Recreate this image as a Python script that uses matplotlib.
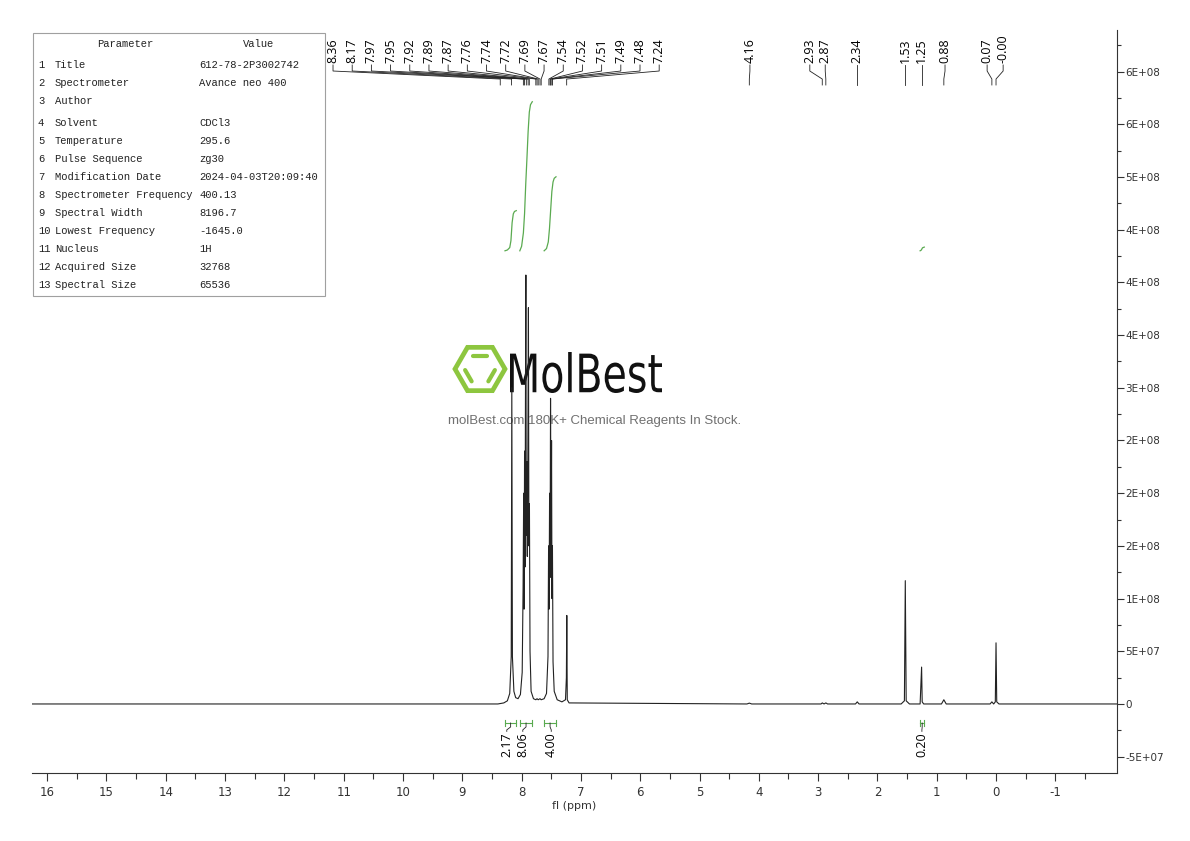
import numpy as np
import matplotlib.pyplot as plt
from matplotlib.ticker import FixedLocator, FuncFormatter
from matplotlib.patches import Rectangle, RegularPolygon, PathPatch
from matplotlib.textpath import TextPath
from matplotlib.font_manager import FontProperties
from matplotlib.transforms import Affine2D

plt.rcParams['axes.unicode_minus'] = False

# 1H NMR trace: shift (ppm) and intensity (x 1e8)
SCALE = 1e8
trace_ppm = [16.26, 8.40, 8.30, 8.24, 8.20, 8.175, 8.165, 8.155, 8.13, 8.10,
             8.06, 8.02, 7.99, 7.975, 7.965, 7.958, 7.950, 7.942, 7.935, 7.928,
             7.921, 7.912, 7.904, 7.896, 7.885, 7.877, 7.868, 7.858, 7.84, 7.80,
             7.76, 7.74, 7.72, 7.69, 7.67, 7.62, 7.58, 7.555, 7.545, 7.537,
             7.528, 7.520, 7.512, 7.503, 7.495, 7.488, 7.480, 7.47, 7.45, 7.40,
             7.32, 7.26, 7.245, 7.238, 7.230, 7.20, 4.20, 4.16, 4.12, 2.95,
             2.93, 2.90, 2.87, 2.84, 2.37, 2.34, 2.31, 1.60, 1.545, 1.530,
             1.515, 1.46, 1.28, 1.255, 1.245, 1.22, 0.92, 0.88, 0.84, 0.10,
             0.07, 0.04, 0.012, 0.000, -0.012, -0.05, -2.04]
trace_int = [0.0, 0.0, 0.01, 0.03, 0.10, 0.45, 3.00, 0.45, 0.12, 0.06,
             0.05, 0.09, 0.30, 1.10, 2.00, 0.90, 2.40, 1.30, 2.90, 4.07,
             1.60, 2.30, 1.40, 2.10, 3.76, 1.50, 1.90, 0.50, 0.12, 0.05,
             0.04, 0.05, 0.04, 0.05, 0.04, 0.05, 0.10, 0.45, 1.50, 0.90,
             2.00, 1.20, 2.90, 1.30, 2.50, 1.00, 1.50, 0.40, 0.12, 0.04,
             0.02, 0.04, 0.25, 0.84, 0.04, 0.01, 0.0, 0.008, 0.0, 0.0,
             0.01, 0.0, 0.01, 0.0, 0.0, 0.02, 0.0, 0.0, 0.03, 1.17,
             0.03, 0.0, 0.0, 0.35, 0.02, 0.0, 0.0, 0.04, 0.0, 0.0,
             0.02, 0.0, 0.02, 0.58, 0.02, 0.0, 0.0]

# picked peaks (two label groups)
peaks_arom = [8.36, 8.17, 7.97, 7.95, 7.92, 7.89, 7.87, 7.76, 7.74, 7.72,
              7.69, 7.67, 7.54, 7.52, 7.51, 7.49, 7.48, 7.24]
peaks_aliph = [4.16, 2.93, 2.87, 2.34, 1.53, 1.25, 0.88, 0.07, -0.0]

# integrals: value, integral curve shift points and fraction of rise
int_values = [2.17, 8.06, 4.00, 0.20]
int_ppm = [[8.28, 8.24, 8.20, 8.18, 8.16, 8.14, 8.12, 8.09],
           [8.03, 8.00, 7.97, 7.95, 7.93, 7.91, 7.89, 7.87, 7.85, 7.82],
           [7.62, 7.58, 7.55, 7.53, 7.51, 7.49, 7.47, 7.45, 7.42],
           [1.28, 1.26, 1.25, 1.24, 1.21]]
int_frac = [[0, 0.02, 0.08, 0.25, 0.70, 0.92, 0.98, 1.0],
            [0, 0.03, 0.12, 0.25, 0.45, 0.62, 0.80, 0.93, 0.98, 1.0],
            [0, 0.03, 0.12, 0.30, 0.55, 0.80, 0.93, 0.98, 1.0],
            [0, 0.2, 0.5, 0.8, 1.0]]

# acquisition parameters table
param_names = ['Title', 'Spectrometer', 'Author', 'Solvent', 'Temperature',
               'Pulse Sequence', 'Modification Date', 'Spectrometer Frequency',
               'Spectral Width', 'Lowest Frequency', 'Nucleus', 'Acquired Size',
               'Spectral Size']
param_values = ['612-78-2P3002742', 'Avance neo 400', '', 'CDCl3', '295.6',
                'zg30', '2024-04-03T20:09:40', '400.13', '8196.7', '-1645.0',
                '1H', '32768', '65536']

COND = ['Liberation Sans Narrow', 'DejaVu Sans']
GREEN = '#5aaa50'

fig = plt.figure(figsize=(11.9, 8.41), dpi=100)

# pixel overlay for the table and watermark
ov = fig.add_axes([0, 0, 1, 1])
ov.set_xlim(0, 1190)
ov.set_ylim(841, 0)
ov.axis('off')
ov.set_zorder(1)

ax = fig.add_axes([32 / 1190, 68 / 841, 1085 / 1190, 743 / 841])
ax.set_zorder(2)
ax.patch.set_alpha(0)

# spectrum
ax.plot(trace_ppm, np.array(trace_int) * SCALE, color='#222222', lw=0.8)
ax.set_xlim(16.256, -2.04)
ax.set_ylim(-0.655 * SCALE, 6.395 * SCALE)

for s in ['top', 'left']:
    ax.spines[s].set_visible(False)
for s in ['bottom', 'right']:
    ax.spines[s].set_color('#333333')
    ax.spines[s].set_linewidth(0.8)

ax.xaxis.set_major_locator(FixedLocator(np.arange(-1, 17)))
ax.xaxis.set_minor_locator(FixedLocator(np.arange(-1.5, 16.0, 1)))
ax.xaxis.set_major_formatter(FuncFormatter(lambda v, p: '%d' % round(v)))
ax.tick_params(axis='x', which='major', length=6, width=0.8, color='#333333',
               labelsize=8.5, pad=3)
ax.tick_params(axis='x', which='minor', length=4, width=0.8, color='#333333')

ax.yaxis.tick_right()
ax.yaxis.set_major_locator(FixedLocator(np.arange(-1, 13) * 5e7))
ax.yaxis.set_minor_locator(FixedLocator(np.arange(-2.5, 13, 1) * 5e7))
ax.yaxis.set_major_formatter(
    FuncFormatter(lambda v, p: '0' if abs(v) < 1 else '{:.0E}'.format(v)))
ax.tick_params(axis='y', which='major', length=5, width=0.8, color='#333333',
               labelsize=7.5, pad=1)
ax.tick_params(axis='y', which='minor', length=3, width=0.8, color='#333333')
for t in ax.get_xticklabels() + ax.get_yticklabels():
    t.set_family(COND)
    t.set_color('#333333')
ax.set_xlabel('fl (ppm)', family=COND, fontsize=8, labelpad=2, color='#333333')

# peak label trees (x in ppm, y in axes fraction)
trans = ax.get_xaxis_transform()
lbl_arom = np.linspace(11.18, 5.68, len(peaks_arom))
lbl_aliph = [4.15, 3.14, 2.88, 2.34, 1.53, 1.25, 0.86, 0.15, -0.12]
for peaks, lbls in [(peaks_arom, lbl_arom), (peaks_aliph, lbl_aliph)]:
    for p, lx in zip(peaks, lbls):
        ax.plot([lx, lx, p, p], [0.9529, 0.9448, 0.9340, 0.9260],
                transform=trans, color='#222222', lw=0.6, clip_on=False)
        ax.text(lx, 0.9556, '%.2f' % p, rotation=90, ha='center', va='bottom',
                transform=trans, fontsize=9, family='Open Sans')

# integral curves, brackets and values
base = 4.30 * SCALE
unit = 0.1755 * SCALE
int_lbl = [8.25, 7.98, 7.50, 1.25]
for v, xs, fr, lx in zip(int_values, int_ppm, int_frac, int_lbl):
    ax.plot(xs, base + np.array(fr) * v * unit, color=GREEN, lw=0.9)
    x0, x1 = xs[0], xs[-1]
    ax.plot([x0, x1], [0.0673, 0.0673], transform=trans, color=GREEN, lw=0.8)
    for xe in (x0, x1):
        ax.plot([xe, xe], [0.063, 0.0716], transform=trans, color=GREEN, lw=0.8)
    xc = (x0 + x1) / 2
    ax.plot([xc, xc, lx, lx], [0.0673, 0.0620, 0.0580, 0.0560],
            transform=trans, color='#222222', lw=0.6)
    ax.text(lx, 0.055, '%.2f' % v, rotation=90, ha='center', va='top',
            transform=trans, fontsize=9, family='Open Sans')

# parameter table
ov.add_patch(Rectangle((33, 33), 292, 263, fill=False, ec='#a0a0a0', lw=0.8))
mono = dict(family='Liberation Mono', fontsize=7.6, color='#222222', va='center')
ov.text(125, 44, 'Parameter', ha='center', **mono)
ov.text(259, 44, 'Value', ha='center', **mono)
row_y = [65, 83, 101, 123, 141, 159, 177, 195, 213, 231, 249, 267, 285]
for i, (n, v) in enumerate(zip(param_names, param_values)):
    ov.text(38, row_y[i], str(i + 1), ha='left', **mono)
    ov.text(55, row_y[i], n, ha='left', **mono)
    ov.text(199, row_y[i], v, ha='left', **mono)

# watermark logo
cx, cy, R = 480, 369, 25
ov.add_patch(RegularPolygon((cx, cy), 6, radius=R, orientation=np.pi / 6,
                            fill=False, ec='#8dc63f', lw=3.4))
r_in = 15.5
for a0, a1 in [(60, 120), (180, 240), (300, 360)]:
    p0 = np.array([cx + r_in * np.cos(np.radians(a0)), cy - r_in * np.sin(np.radians(a0))])
    p1 = np.array([cx + r_in * np.cos(np.radians(a1)), cy - r_in * np.sin(np.radians(a1))])
    q0 = p0 + 0.08 * (p1 - p0)
    q1 = p0 + 0.92 * (p1 - p0)
    ov.plot([q0[0], q1[0]], [q0[1], q1[1]], color='#8dc63f', lw=3, solid_capstyle='round')

tp = TextPath((0, 0), 'MolBest', size=10, prop=FontProperties(family=COND, weight='normal'))
ext = tp.get_extents()
tr = Affine2D().translate(-ext.x0, -ext.y0).scale(152 / ext.width, -41 / ext.height).translate(510, 393)
ov.add_patch(PathPatch(tr.transform_path(tp), fc='#111111', ec='none'))
ov.text(448, 421, 'molBest.com 180K+ Chemical Reagents In Stock.', fontsize=9.5,
        color='#707070', ha='left', va='center', family='Liberation Sans')

fig.savefig('out.png', dpi=100)
